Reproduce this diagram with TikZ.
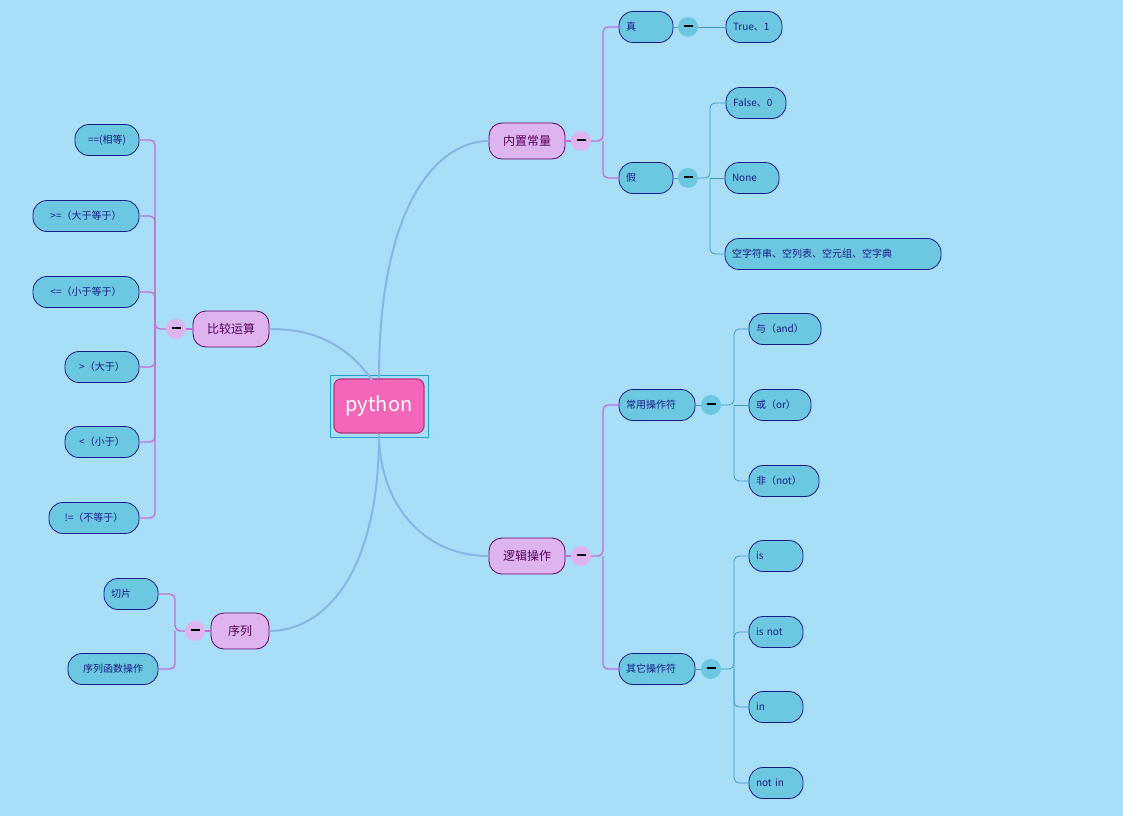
\documentclass[tikz,border=0pt]{standalone}
\usepackage{fontspec}
\setmainfont{Noto Sans CJK SC}
\newcommand{\mdash}{\rule[2.5pt]{9pt}{1.6pt}}
\begin{document}
\begin{tikzpicture}[x=1pt,y=-1pt,
 l1/.style={draw=violet!80!black,fill=lv1,text=violet!70!black,rounded corners=13pt,minimum height=36pt,font=\fontsize{12}{13}\selectfont,line width=0.8pt,inner sep=2pt},
 l2/.style={draw=navy,fill=cy,text=navy,rounded corners=14pt,minimum height=31pt,font=\fontsize{10}{11}\selectfont,line width=0.8pt,inner sep=2pt,align=left},
 lw/.style={minimum width=#1,text width=#1-14pt},
 cw/.style={minimum width=#1,text width=#1-10pt,align=center},
 pmn/.style={circle,fill=pminus,minimum size=20pt,inner sep=0pt},
 cmn/.style={circle,fill=cmin,minimum size=20pt,inner sep=0pt},
 main/.style={line width=2pt,draw=mainc},
 pb/.style={line width=1.3pt,draw=pline,rounded corners=5pt},
 cb/.style={line width=0.8pt,draw=cline,rounded corners=5pt}]
\definecolor{bg}{HTML}{A8DEF8}
\definecolor{lv1}{HTML}{DDB3F0}
\definecolor{navy}{HTML}{1A1A8C}
\definecolor{cy}{HTML}{6CC8E0}
\definecolor{pminus}{HTML}{DDB3F0}
\definecolor{cmin}{HTML}{6CC8E0}
\definecolor{mainc}{HTML}{8AB4E6}
\definecolor{pline}{HTML}{C46BD8}
\definecolor{cline}{HTML}{3A9AC8}
\fill[bg] (0,0) rectangle (1123,816);
\useasboundingbox (0,0) rectangle (1123,816);
% center
\node[draw=cyan!70!teal,line width=1pt,minimum width=98pt,minimum height=62pt] (frame) at (379,406) {};
\node[draw=magenta!70!black,fill=magenta!60!white,line width=1.2pt,rounded corners=7pt,minimum width=90pt,minimum height=54pt,text=white,font=\fontsize{20}{22}\selectfont] (py) at (379,406) {python};
% level1
\node[l1,minimum width=76pt] (a) at (527,141) {内置常量};
\node[l1,minimum width=76pt] (b) at (527,556) {逻辑操作};
\node[l1,minimum width=76pt] (c) at (231,329) {比较运算};
\node[l1,minimum width=58pt] (d) at (240,631) {序列};
\draw[main] (379,378) .. controls (379,200) and (440,141) .. (a.west);
\draw[main] (379,434) .. controls (379,500) and (420,556) .. (b.west);
\draw[main] (372,380) .. controls (340,335) and (300,329) .. (c.east);
\draw[main] (379,434) .. controls (379,580) and (320,631) .. (d.east);
% minus circles level1
\node[pmn] (am) at (581,141) {\mdash};
\node[pmn] (bm) at (581,556) {\mdash};
\node[pmn] (cm1) at (176,329) {\mdash};
\node[pmn] (dm) at (195,631) {\mdash};
\draw[pline,line width=1.3pt] (a.east)--(am) (b.east)--(bm) (c.west)--(cm1) (d.west)--(dm);
% level2
\node[l2,lw=54pt] (a1) at (646,27) {真};
\node[l2,lw=54pt] (a2) at (646,178) {假};
\node[l2,lw=76pt] (b1) at (657,405) {常用操作符};
\node[l2,lw=76pt] (b2) at (657,669) {其它操作符};
\coordinate (av) at (603,141);
\coordinate (bv) at (603,556);
\draw[pb] (am.east) -- (av) |- (a1.west);
\draw[pb] (av) |- (a2.west);
\draw[pb] (bm.east) -- (bv) |- (b1.west);
\draw[pb] (bv) |- (b2.west);
\node[cmn] (a1m) at (688,27) {\mdash};
\node[cmn] (a2m) at (688,178) {\mdash};
\node[cmn] (b1m) at (711,405) {\mdash};
\node[cmn] (b2m) at (711,669) {\mdash};
\draw[cline,line width=0.8pt] (a1.east)--(a1m) (a2.east)--(a2m) (b1.east)--(b1m) (b2.east)--(b2m);
% leaves
\node[l2,lw=56pt] (t1) at (754,27) {True、1};
\node[l2,lw=60pt] (f1) at (756,103) {False、0};
\node[l2,lw=54pt] (f2) at (752,178) {None};
\node[l2,lw=216pt] (f3) at (833,254) {空字符串、空列表、空元组、空字典};
\node[l2,lw=72pt] (o1) at (785,329) {与（and）};
\node[l2,lw=62pt] (o2) at (780,405) {或（or）};
\node[l2,lw=70pt] (o3) at (784,481) {非（not）};
\node[l2,lw=54pt] (p1) at (776,556) {is};
\node[l2,lw=54pt] (p2) at (776,632) {is not};
\node[l2,lw=54pt] (p3) at (776,707) {in};
\node[l2,lw=54pt] (p4) at (776,783) {not in};
\draw[cline,line width=0.8pt] (a1m)--(t1.west);
\coordinate (fv) at (710,178);
\draw[cb] (a2m.east) -- (fv) |- (f1.west); \draw[cb] (fv) |- (f3.west); \draw[cb] (fv)--(f2.west);
\coordinate (ov) at (734,405);
\draw[cb] (b1m.east) -- (ov) |- (o1.west); \draw[cb] (ov) |- (o3.west); \draw[cb] (ov)--(o2.west);
\coordinate (qv) at (734,669);
\draw[cb] (b2m.east) -- (qv) |- (p1.west); \draw[cb] (qv) |- (p2.west); \draw[cb] (qv) |- (p3.west); \draw[cb] (qv) |- (p4.west);
% left leaves
\node[l2,cw=64pt] (c1) at (107,140) {==(相等)};
\node[l2,cw=106pt] (c2) at (86,216) {>=（大于等于）};
\node[l2,cw=106pt] (c3) at (86,292) {<=（小于等于）};
\node[l2,cw=74pt] (c4) at (102,367) {>（大于）};
\node[l2,cw=74pt] (c5) at (102,442) {<（小于）};
\node[l2,cw=90pt] (c6) at (94,518) {!=（不等于）};
\node[l2,lw=54pt] (d1) at (131,594) {切片};
\node[l2,cw=90pt] (d2) at (113,669) {序列函数操作};
\coordinate (cv) at (155,329);
\draw[pb] (cm1.west) -- (cv) |- (c1.east); \draw[pb] (cv) |- (c2.east); \draw[pb] (cv) |- (c3.east);
\draw[pb] (cv) |- (c4.east); \draw[pb] (cv) |- (c5.east); \draw[pb] (cv) |- (c6.east);
\coordinate (dv) at (175,631);
\draw[pb] (dm.west) -- (dv) |- (d1.east); \draw[pb] (dv) |- (d2.east);
\end{tikzpicture}
\end{document}
